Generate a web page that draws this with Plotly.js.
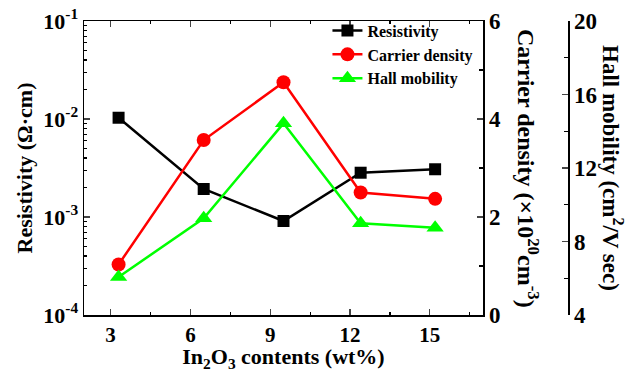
<!DOCTYPE html>
<html><head><meta charset="utf-8">
<script src="https://cdn.plot.ly/plotly-3.0.1.min.js"></script>
<style>html,body{margin:0;padding:0;background:#fff}#chart{width:629px;height:372px}</style>
</head><body><div id="chart"></div>
<script>
// Data
const inContent = [3.3, 6.5, 9.5, 12.4, 15.2];
const resistivity = [1.03e-2, 1.93e-3, 9.1e-4, 2.83e-3, 3.07e-3];
const carrierDensity = [1.03, 3.57, 4.75, 2.5, 2.37];
const hallMobility = [6.07, 9.26, 14.43, 8.99, 8.75];

const xTickVals = [3, 6, 9, 12, 15];
const resTickVals = [1e-4, 1e-3, 1e-2, 1e-1];
const resTickText = ['10<sup>-4</sup>', '10<sup>-3</sup>', '10<sup>-2</sup>', '10<sup>-1</sup>'];
const carTickVals = [0, 2, 4, 6];
const hallTickVals = [4, 8, 12, 16, 20];

const FONT = 'Liberation Serif, Times New Roman, serif';

// minor log ticks (2..9 within each decade)
const resMinor = [];
[1e-4, 1e-3, 1e-2].forEach(d => { for (let k = 2; k <= 9; k++) resMinor.push(d * k); });

const traces = [
  {x: inContent, y: resistivity, name: 'Resistivity', type: 'scatter', mode: 'lines+markers',
   line: {color: '#000000', width: 2.5}, marker: {symbol: 'square', size: 12, color: '#000000'},
   xaxis: 'x', yaxis: 'y'},
  {x: inContent, y: carrierDensity, name: 'Carrier density', type: 'scatter', mode: 'lines+markers',
   line: {color: '#ff0000', width: 2.5}, marker: {symbol: 'circle', size: 14, color: '#ff0000'},
   xaxis: 'x', yaxis: 'y2'},
  {x: inContent, y: hallMobility, name: 'Hall mobility', type: 'scatter', mode: 'lines+markers',
   line: {color: '#00ff00', width: 2.5}, marker: {symbol: 'triangle-up', size: 15, color: '#00ff00'},
   xaxis: 'x', yaxis: 'y3'}
];

const W = 629, H = 372;
const mL = 84, mR = 61, mT = 21, mB = 57;
const plotW = W - mL - mR;
const xDomEnd = (483 - mL) / plotW;

const layout = {
  width: W, height: H,
  margin: {l: mL, r: mR, t: mT, b: mB},
  paper_bgcolor: '#ffffff', plot_bgcolor: '#ffffff',
  font: {family: FONT, color: '#000000', size: 20, weight: 'bold'},
  showlegend: true,
  legend: {x: 0.503, y: 1.025, xanchor: 'left', yanchor: 'top', bgcolor: 'rgba(0,0,0,0)',
           font: {family: FONT, size: 16, weight: 'bold'}, tracegroupgap: 0},
  xaxis: {
    domain: [0, xDomEnd], range: [2, 17], tickmode: 'array', tickvals: xTickVals,
    ticks: 'inside', ticklen: 6, tickwidth: 1.2, showline: true, linewidth: 1.5, linecolor: '#000',
    mirror: 'ticks', showgrid: false, zeroline: false,
    tickfont: {size: 21, family: FONT, weight: 'bold'},
    minor: {dtick: 1.5, tick0: 0, ticks: 'inside', ticklen: 3, tickcolor: '#000', showgrid: false},
    title: {text: 'In<sub>2</sub>O<sub>3</sub> contents (wt%)', font: {size: 22, family: FONT, weight: 'bold'}, standoff: 7}
  },
  yaxis: {
    type: 'log', range: [-4, -1], tickmode: 'array', tickvals: resTickVals, ticktext: resTickText,
    ticks: 'inside', ticklen: 6, tickwidth: 1.2, showline: true, linewidth: 1.5, linecolor: '#000',
    showgrid: false, zeroline: false,
    tickfont: {size: 22, family: FONT, weight: 'bold'},
    minor: {tickmode: 'array', tickvals: resMinor, ticks: 'inside', ticklen: 3, tickcolor: '#000', showgrid: false},
    title: {text: 'Resistivity (Ω·cm)', font: {size: 22, family: FONT, weight: 'bold'}, standoff: 4}
  },
  yaxis2: {
    overlaying: 'y', anchor: 'x', side: 'right', range: [0, 6], tickmode: 'array', tickvals: carTickVals,
    ticks: 'inside', ticklen: 6, tickwidth: 1.2, showline: true, linewidth: 1.5, linecolor: '#000',
    showgrid: false, zeroline: false,
    tickfont: {size: 23, family: FONT, weight: 'bold'},
    minor: {dtick: 1, ticks: 'inside', ticklen: 4, tickcolor: '#000', showgrid: false}
  },
  yaxis3: {
    overlaying: 'y', anchor: 'free', position: 1, side: 'right', range: [4, 20], tickmode: 'array', tickvals: hallTickVals,
    ticks: 'inside', ticklen: 6, tickwidth: 1.2, showline: true, linewidth: 1.5, linecolor: '#000',
    showgrid: false, zeroline: false,
    tickfont: {size: 23, family: FONT, weight: 'bold'},
    minor: {dtick: 2, ticks: 'inside', ticklen: 4, tickcolor: '#000', showgrid: false}
  },
  annotations: [
    {xref: 'paper', yref: 'paper', x: (528 - mL) / plotW, y: 0.5, text: 'Carrier density (×10<sup>20</sup>cm<sup>-3</sup>)',
     textangle: 90, showarrow: false, xanchor: 'center', yanchor: 'middle', font: {size: 24, family: FONT, weight: 'bold'}},
    {xref: 'paper', yref: 'paper', x: (613 - mL) / plotW, y: 0.5, text: 'Hall mobility (cm<sup>2</sup>/V sec)',
     textangle: 90, showarrow: false, xanchor: 'center', yanchor: 'middle', font: {size: 23, family: FONT, weight: 'bold'}}
  ]
};

Plotly.newPlot('chart', traces, layout, {displayModeBar: false, staticPlot: true});
</script></body></html>
